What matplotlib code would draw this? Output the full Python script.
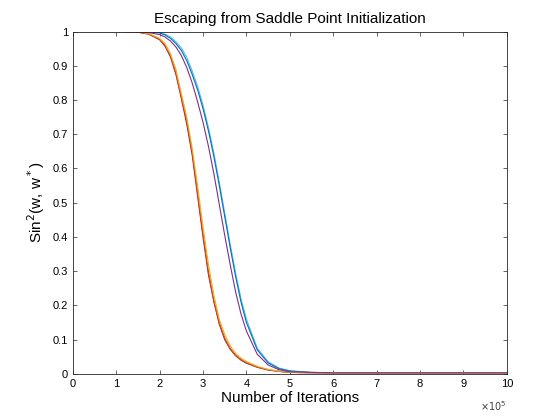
import numpy as np
import matplotlib
matplotlib.use('Agg')
import matplotlib.pyplot as plt

plt.rcParams['font.family'] = ['Liberation Sans', 'DejaVu Sans']

# iterations (x 1e5)
iters = [0, 1, 1.5, 1.75, 2, 2.125, 2.25, 2.375, 2.5, 2.625, 2.75, 2.875, 3, 3.125, 3.25,
         3.375, 3.5, 3.625, 3.75, 3.875, 4, 4.25, 4.5, 4.75, 5, 5.5, 6, 7, 8, 9, 10]

run_blue = [1, 1, 1, 0.999, 0.996, 0.99, 0.98, 0.965, 0.945, 0.915, 0.875, 0.83, 0.775, 0.71, 0.635,
            0.55, 0.46, 0.37, 0.285, 0.21, 0.15, 0.07, 0.032, 0.015, 0.008, 0.004, 0.003, 0.003, 0.003, 0.003, 0.003]
run_orange = [1, 1, 0.998, 0.993, 0.978, 0.96, 0.93, 0.88, 0.81, 0.74, 0.65, 0.53, 0.41, 0.30, 0.215,
              0.15, 0.105, 0.075, 0.055, 0.042, 0.033, 0.02, 0.012, 0.007, 0.004, 0.003, 0.003, 0.003, 0.003, 0.003, 0.003]
run_yellow = [1, 1, 0.999, 0.994, 0.98, 0.965, 0.935, 0.89, 0.82, 0.75, 0.66, 0.55, 0.43, 0.32, 0.23,
              0.16, 0.115, 0.082, 0.06, 0.046, 0.036, 0.022, 0.013, 0.008, 0.005, 0.003, 0.003, 0.003, 0.003, 0.003, 0.003]
run_purple = [1, 1, 0.999, 0.997, 0.991, 0.984, 0.972, 0.955, 0.93, 0.895, 0.85, 0.795, 0.735, 0.665, 0.585,
              0.495, 0.405, 0.32, 0.24, 0.175, 0.125, 0.057, 0.026, 0.012, 0.006, 0.004, 0.003, 0.003, 0.003, 0.003, 0.003]
run_cyan = [1, 1, 1, 0.999, 0.997, 0.992, 0.984, 0.97, 0.952, 0.925, 0.885, 0.84, 0.785, 0.72, 0.645,
            0.56, 0.47, 0.38, 0.295, 0.22, 0.16, 0.075, 0.035, 0.017, 0.009, 0.004, 0.003, 0.003, 0.003, 0.003, 0.003]
run_red = [1, 1, 0.998, 0.992, 0.976, 0.957, 0.926, 0.875, 0.805, 0.73, 0.64, 0.52, 0.40, 0.29, 0.21,
           0.145, 0.10, 0.072, 0.053, 0.04, 0.031, 0.019, 0.011, 0.007, 0.004, 0.003, 0.003, 0.003, 0.003, 0.003, 0.003]

runs = [run_red, run_cyan, run_blue, run_orange, run_yellow, run_purple]
colors = ['#A2142F', '#4DBEEE', '#0072BD', '#D95319', '#EDB120', '#7E2F8E']

fig = plt.figure(figsize=(5.6, 4.2), dpi=100)
ax = fig.add_axes([0.13, 0.11, 0.775, 0.815])

for r, c in zip(runs, colors):
    ax.plot(iters, r, color=c, linewidth=0.8)

ax.set_xlim(0, 10)
ax.set_ylim(0, 1)
ax.set_xticks(np.arange(0, 11, 1))
ax.set_yticks(np.arange(0, 1.01, 0.1))
ax.set_yticklabels(['0', '0.1', '0.2', '0.3', '0.4', '0.5', '0.6', '0.7', '0.8', '0.9', '1'])
ax.tick_params(axis='both', direction='in', length=3, width=0.5, labelsize=8,
               top=True, right=True, colors='#262626', labelcolor='black')
for s in ax.spines.values():
    s.set_linewidth(0.6)
    s.set_color('#262626')

ax.set_title('Escaping from Saddle Point Initialization', fontsize=11)
ax.set_xlabel('Number of Iterations', fontsize=11, labelpad=2)
ax.set_ylabel('Sin$^2$(w, w$^*$)', fontsize=11, labelpad=4)
ax.text(1.0, -0.075, r'$\times10^5$', transform=ax.transAxes, ha='right', va='top', fontsize=7, color='#404040')

fig.savefig('out.png', dpi=100)
